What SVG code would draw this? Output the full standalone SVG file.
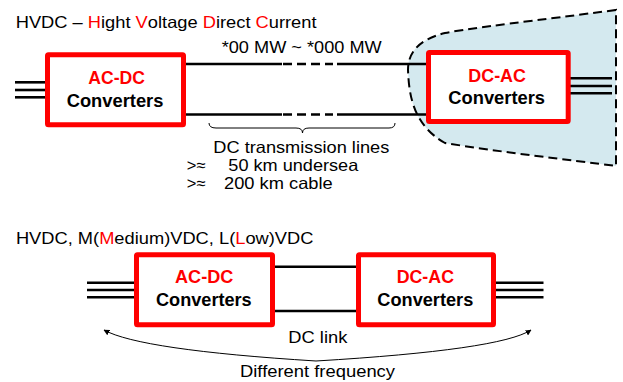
<svg xmlns="http://www.w3.org/2000/svg" width="623" height="382" viewBox="0 0 623 382">
<style>
.t{font-family:"Liberation Sans",Arial,sans-serif;font-size:16.5px;fill:#000}
.b{font-family:"Liberation Sans",Arial,sans-serif;font-size:18px;font-weight:bold}
.r{fill:#ff0000}
.k{fill:#000}
.box{fill:#fff;stroke:#ff0000;stroke-width:5}
.ln{stroke:#000;stroke-width:2.6;fill:none}
.thin{stroke:#000;stroke-width:1;fill:none}
</style>
<defs>
<marker id="ah" viewBox="0 0 10 10" refX="9" refY="5" markerWidth="6" markerHeight="6" orient="auto" markerUnits="userSpaceOnUse">
<path d="M0,0 L10,5 L0,10 Z" fill="#000"/>
</marker>
</defs>
<rect width="623" height="382" fill="#fff"/>
<path id="region" d="M616,10 C540,20 470,28 445,33 C416,40 408,55 408,70 C409,95 413,125 445,143 C500,152 570,160 616,166 Z" fill="#d4e9ef" stroke="#000" stroke-width="2" stroke-dasharray="9 5"/>
<text class="t" transform="translate(15.7,28) scale(1.109,1)">HVDC – <tspan class="r">H</tspan>ight <tspan class="r">V</tspan>oltage <tspan class="r">D</tspan>irect <tspan class="r">C</tspan>urrent</text>
<text class="t" x="221.7" y="53.3" textLength="160" lengthAdjust="spacingAndGlyphs">*00 MW ~ *000 MW</text>
<g id="connectors">
<line class="ln" x1="15" y1="82.3" x2="47" y2="82.3"/>
<line class="ln" x1="15" y1="90" x2="47" y2="90"/>
<line class="ln" x1="15" y1="97.3" x2="47" y2="97.3"/>
<line class="ln" x1="185" y1="64" x2="282" y2="64"/>
<line class="ln" x1="283" y1="64" x2="333" y2="64" stroke-dasharray="9 5"/>
<line class="ln" x1="337" y1="64" x2="428" y2="64"/>
<line class="ln" x1="185" y1="114.5" x2="282" y2="114.5"/>
<line class="ln" x1="283" y1="114.5" x2="333" y2="114.5" stroke-dasharray="9 5"/>
<line class="ln" x1="337" y1="114.5" x2="428" y2="114.5"/>
<line class="ln" x1="569" y1="78.3" x2="612" y2="78.3"/>
<line class="ln" x1="569" y1="86" x2="612" y2="86"/>
<line class="ln" x1="569" y1="93.3" x2="612" y2="93.3"/>
<path class="thin" d="M209,123 Q209,128 216,128 L296,128 Q302.5,128 302.5,133 Q302.5,128 309,128 L389,128 Q395,128 395,123"/>
<line class="ln" x1="87" y1="282.7" x2="136" y2="282.7"/>
<line class="ln" x1="87" y1="290" x2="136" y2="290"/>
<line class="ln" x1="87" y1="297.3" x2="136" y2="297.3"/>
<line class="ln" x1="274" y1="266.7" x2="358" y2="266.7"/>
<line class="ln" x1="274" y1="311" x2="358" y2="311"/>
<line class="ln" x1="494" y1="282.7" x2="543.5" y2="282.7"/>
<line class="ln" x1="494" y1="290" x2="543.5" y2="290"/>
<line class="ln" x1="494" y1="297.3" x2="543.5" y2="297.3"/>
<path class="thin" d="M316,361 Q140,350 104,330" marker-end="url(#ah)"/>
<path class="thin" d="M316,361 Q500,350 531,330" marker-end="url(#ah)"/>
</g>
<g id="top-acdc">
<rect class="box" x="47.5" y="54.8" width="136" height="70" rx="1"/>
<text class="b r" x="88.3" y="84.3" textLength="56.7" lengthAdjust="spacingAndGlyphs">AC-DC</text>
<text class="b k" x="66.7" y="106.7" textLength="96.7" lengthAdjust="spacingAndGlyphs">Converters</text>
</g>
<g id="top-dcac">
<rect class="box" x="428.5" y="52.5" width="139.7" height="69" rx="1"/>
<text class="b r" x="468.3" y="81.7" textLength="57.7" lengthAdjust="spacingAndGlyphs">DC-AC</text>
<text class="b k" x="448.3" y="104.3" textLength="96.7" lengthAdjust="spacingAndGlyphs">Converters</text>
</g>
<g id="labels-top">
<text class="t" x="213.3" y="153.3" textLength="176" lengthAdjust="spacingAndGlyphs">DC transmission lines</text>
<text class="t" x="186.7" y="171">&gt;≈</text>
<text class="t" x="228.3" y="171" textLength="130" lengthAdjust="spacingAndGlyphs">50 km undersea</text>
<text class="t" x="186.7" y="189.3">&gt;≈</text>
<text class="t" x="224" y="189.3" textLength="108.7" lengthAdjust="spacingAndGlyphs">200 km cable</text>
</g>
<text class="t" transform="translate(15.9,244) scale(1.108,1)">HVDC, M(<tspan class="r">M</tspan>edium)VDC, L(<tspan class="r">L</tspan>ow)VDC</text>
<g id="bottom-acdc">
<rect class="box" x="136.5" y="254.8" width="136" height="70" rx="1"/>
<text class="b r" x="175" y="283.3" textLength="58.3" lengthAdjust="spacingAndGlyphs">AC-DC</text>
<text class="b k" x="156" y="306" textLength="95.7" lengthAdjust="spacingAndGlyphs">Converters</text>
</g>
<g id="bottom-dcac">
<rect class="box" x="358.5" y="254.8" width="135" height="70" rx="1"/>
<text class="b r" x="396.7" y="283.3" textLength="57.3" lengthAdjust="spacingAndGlyphs">DC-AC</text>
<text class="b k" x="377.3" y="306" textLength="96" lengthAdjust="spacingAndGlyphs">Converters</text>
</g>
<text class="t" x="288.3" y="343.3" textLength="59" lengthAdjust="spacingAndGlyphs">DC link</text>
<text class="t" x="240" y="376.7" textLength="155" lengthAdjust="spacingAndGlyphs">Different frequency</text>
</svg>
